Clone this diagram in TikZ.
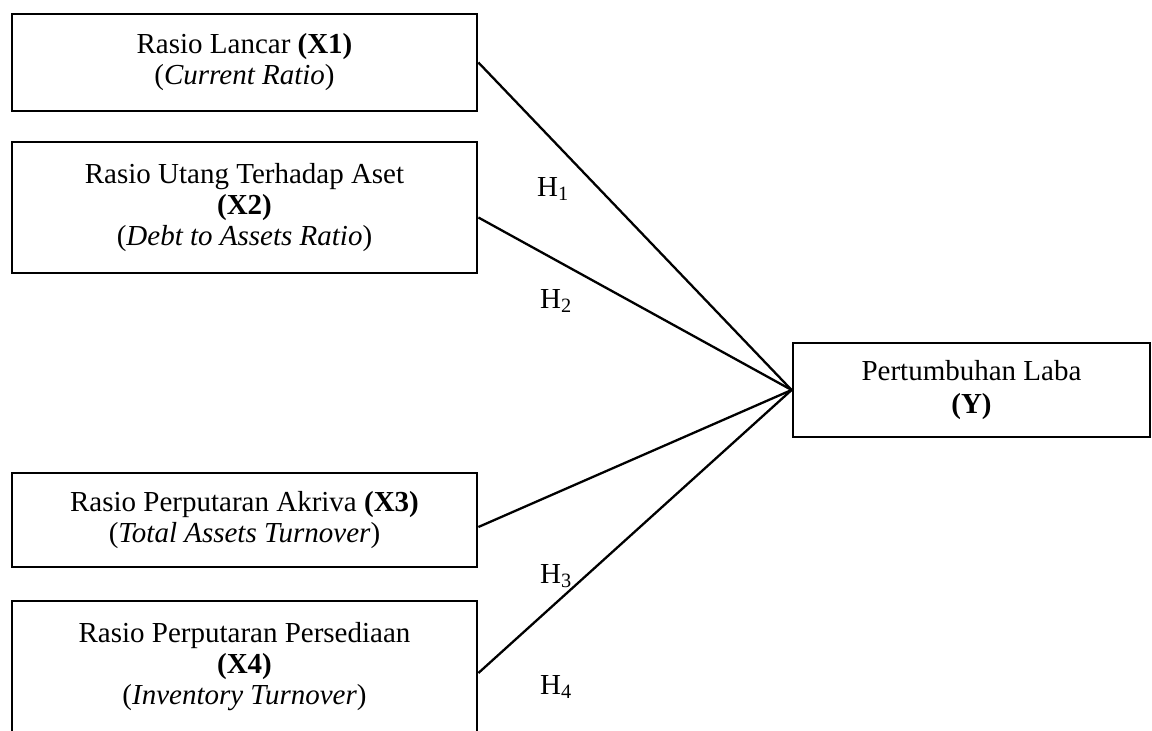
\documentclass[tikz,border=0pt]{standalone}
\usepackage{fontspec}
\setmainfont{Liberation Serif}

\begin{document}
\begin{tikzpicture}[y=-1pt,x=1pt,
	var/.style={draw, line width=2.8, minimum width=465, align=center, inner sep=0, font=\fontsize{29}{31}\selectfont},
	link/.style={line width=2.3},
	hyp/.style={anchor=base west, inner sep=0, font=\fontsize{29}{31}\selectfont}]
	\clip (0,0) rectangle (1152,731);

	\node[var, minimum height=97] (x1) at (244.5,62.5) {Rasio Lancar \textbf{(X1)}\\(\textit{Current Ratio})};
	\node[var, minimum height=131] (x2) at (244.5,207.5) {Rasio Utang Terhadap Aset\\\textbf{(X2)}\\(\textit{Debt to Assets Ratio})};
	\node[var, minimum height=94] (x3) at (244.5,520) {Rasio Perputaran Akriva \textbf{(X3)}\\(\textit{Total Assets Turnover})};
	\node[var, minimum height=132] (x4) at (244.5,667) {Rasio Perputaran Persediaan\\\textbf{(X4)}\\(\textit{Inventory Turnover})};
	\node[var, minimum width=357, minimum height=94, font=\fontsize{29}{33}\selectfont] (y) at (971.5,390) {Pertumbuhan Laba\\\textbf{(Y)}};

	\draw[link] (x1.east) -- (y.west);
	\draw[link] ([yshift=-10]x2.east) -- (y.west);
	\draw[link] ([yshift=-7]x3.east) -- (y.west);
	\draw[link] ([yshift=-6]x4.east) -- (y.west);

	\node[hyp] (h1) at (537,196) {H\textsubscript{1}};
	\node[hyp] (h2) at (540,308) {H\textsubscript{2}};
	\node[hyp] (h3) at (540,583) {H\textsubscript{3}};
	\node[hyp] (h4) at (540,694) {H\textsubscript{4}};
\end{tikzpicture}
\end{document}
